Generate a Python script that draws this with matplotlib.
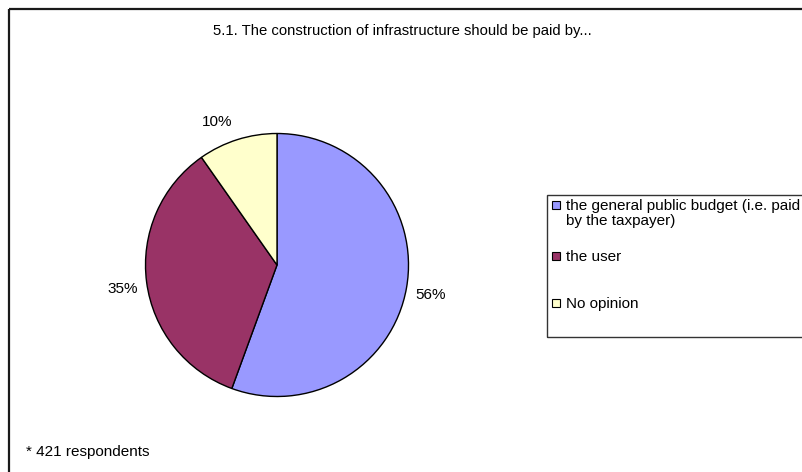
import matplotlib.pyplot as plt
from matplotlib.patches import Rectangle
import numpy as np

plt.rcParams['font.family'] = ['Liberation Sans', 'DejaVu Sans']

title = "5.1. The construction of infrastructure should be paid by..."
categories = ["the general public budget (i.e. paid\nby the taxpayer)", "the user", "No opinion"]
respondents = [234, 146, 41]   # 421 in total
colors = ["#9999ff", "#993366", "#ffffcc"]
note = "* 421 respondents"

W, H = 803, 472
fig = plt.figure(figsize=(W / 100, H / 100), dpi=100)


def px(x, y):
    # pixel coords (from top-left) -> figure fraction
    return x / W, 1 - y / H


# chart frame, runs off the right and bottom edges
frame = Rectangle(px(9, 9), (W + 20 - 9) / W, -(H + 20 - 9) / H, transform=fig.transFigure,
                  fill=False, edgecolor="#1a1a1a", linewidth=1.6, clip_on=False)
fig.patches.append(frame)

fig.text(*px(402, 31), title, ha="center", va="center", fontsize=10.7,
         family=['Liberation Sans Narrow', 'Liberation Sans', 'DejaVu Sans'])

# pie
cx, cy, r = 277, 265, 131.5
ax = fig.add_axes([(cx - r) / W, 1 - (cy + r) / H, 2 * r / W, 2 * r / H])
wedges, _ = ax.pie(respondents, colors=colors, startangle=90, counterclock=False,
                   wedgeprops=dict(edgecolor="black", linewidth=1.0), radius=1)
ax.set_xlim(-1, 1)
ax.set_ylim(-1, 1)
ax.set_aspect("equal")
ax.axis("off")

total = sum(respondents)
for w, v in zip(wedges, respondents):
    mid = np.deg2rad((w.theta1 + w.theta2) / 2)
    x, y = np.cos(mid), np.sin(mid)
    ha = "left" if x > 0.2 else ("right" if x < -0.2 else "center")
    d = 1.07 if abs(x) > 0.5 else 1.12
    ax.text(d * x, d * y + (0.02 if y > 0.5 else -0.04), "%d%%" % round(100 * v / total),
            ha=ha, va="center", fontsize=11, clip_on=False)

# legend box
lx, ly, lb = 547, 195, 337
box = Rectangle(px(lx, lb), (W + 20 - lx) / W, (lb - ly) / H, transform=fig.transFigure,
                fill=False, edgecolor="#333333", linewidth=1.0, clip_on=False)
fig.patches.append(box)
item_y = [205, 256, 303]
for label, c, yy in zip(categories, colors, item_y):
    fig.patches.append(Rectangle(px(552, yy + 4), 8 / W, 8 / H, transform=fig.transFigure,
                                 facecolor=c, edgecolor="black", linewidth=0.8))
    fig.text(*px(566, yy - 6), label, ha="left", va="top", fontsize=11, linespacing=1.12)

fig.text(*px(26, 452), note, ha="left", va="center", fontsize=11)

fig.savefig("out.png", dpi=100)
